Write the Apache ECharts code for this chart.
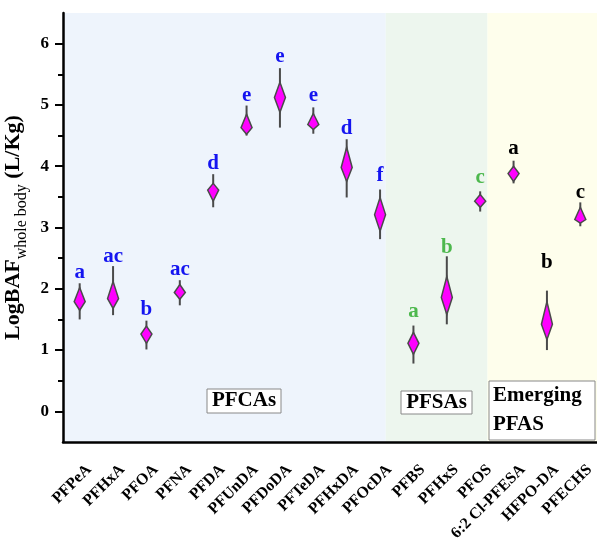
<!DOCTYPE html>
<html>
<head>
<meta charset="utf-8">
<script src="https://cdn.jsdelivr.net/npm/echarts@6/dist/echarts.min.js"></script>
<style>
  html, body { margin: 0; padding: 0; background: #fff; }
  #chart { width: 597px; height: 550px; }
</style>
</head>
<body>
<div id="chart"></div>
<script>
  // compound names along the x axis
  const categories = ['PFPeA', 'PFHxA', 'PFOA', 'PFNA', 'PFDA', 'PFUnDA', 'PFDoDA', 'PFTeDA', 'PFHxDA', 'PFOcDA',
    'PFBS', 'PFHxS', 'PFOS', '6:2 Cl-PFESA', 'HFPO-DA', 'PFECHS']
  // 0 = PFCAs, 1 = PFSAs, 2 = Emerging PFAS
  const groupOf = [0, 0, 0, 0, 0, 0, 0, 0, 0, 0, 1, 1, 1, 2, 2, 2]
  const groupNames = ['PFCAs', 'PFSAs', 'Emerging\nPFAS']

  // violin values (LogBAF)
  const whiskerLow = [1.50, 1.57, 1.01, 1.73, 3.33, 4.50, 4.63, 4.53, 3.49, 2.81, 0.78, 1.42, 3.26, 3.72, 1.00, 3.02]
  const whiskerHigh = [2.09, 2.37, 1.48, 2.14, 3.87, 4.99, 5.60, 4.96, 4.44, 3.62, 1.40, 2.53, 3.59, 4.09, 1.97, 3.41]
  const bodyLow = [1.65, 1.68, 1.11, 1.83, 3.43, 4.52, 4.88, 4.60, 3.75, 2.94, 0.93, 1.58, 3.33, 3.75, 1.17, 3.07]
  const bodyMid = [1.79, 1.84, 1.26, 1.94, 3.61, 4.63, 5.12, 4.68, 3.98, 3.21, 1.11, 1.86, 3.43, 3.88, 1.42, 3.13]
  const bodyHigh = [2.02, 2.12, 1.39, 2.07, 3.72, 4.85, 5.37, 4.86, 4.31, 3.49, 1.29, 2.20, 3.54, 4.00, 1.79, 3.33]

  // significance letters and where they sit
  const letters = ['a', 'ac', 'b', 'ac', 'd', 'e', 'e', 'e', 'd', 'f', 'a', 'b', 'c', 'a', 'b', 'c']
  const letterY = [2.27, 2.53, 1.66, 2.32, 4.05, 5.15, 5.79, 5.15, 4.62, 3.85, 1.63, 2.68, 3.82, 4.29, 2.43, 3.57]

  // shaded group bands, in category units
  const bandStart = [-0.5, 9.17, 12.22]
  const bandEnd = [9.17, 12.22, 15.5]

  // y axis ticks
  const yMajorTicks = [0, 1, 2, 3, 4, 5, 6]
  const yMinorTicks = [0.5, 1.5, 2.5, 3.5, 4.5, 5.5]

  const serif = '"Liberation Serif", "Times New Roman", serif'
  const letterColors = ['#1414f0', '#4db84d', '#000000']
  const bandColors = ['#eef4fc', '#edf6ee', '#fefeec']
  // group name boxes: x, y, width, height (px)
  const boxLayout = [[207, 389, 74, 24], [401, 391, 71, 23], [489, 381, 106, 59]]

  const chart = echarts.init(document.getElementById('chart'))

  const violinData = categories.map((c, i) => [i, whiskerLow[i], whiskerHigh[i], bodyLow[i], bodyMid[i], bodyHigh[i], letterY[i]])
  const bandData = bandStart.map((s, i) => [s, bandEnd[i], i])

  chart.setOption({
    animation: false,
    grid: { left: 63, right: 0, top: 13, bottom: 108, outerBoundsMode: 'none' },
    xAxis: [
      {
        type: 'category',
        data: categories,
        boundaryGap: true,
        axisLine: { onZero: false, lineStyle: { color: '#000', width: 2.5 } },
        axisTick: { alignWithLabel: true, length: 7, lineStyle: { color: '#000', width: 2 } },
        axisLabel: {
          interval: 0,
          rotate: 45,
          margin: 16,
          padding: [5, 0, 0, 0],
          verticalAlign: 'top',
          color: '#000',
          fontFamily: serif,
          fontWeight: 'bold',
          fontSize: 16
        },
        splitLine: { show: false }
      },
      {
        type: 'value',
        min: -0.5,
        max: 15.5,
        show: false,
        axisLine: { onZero: false }
      }
    ],
    yAxis: [
      {
        type: 'value',
        min: -0.5,
        max: 6.5,
        interval: 0.5,
        name: '{b|LogBAF}{s|whole body}{b| (L/Kg)}',
        nameLocation: 'middle',
        nameGap: 29,
        nameTextStyle: {
          rich: {
            b: { fontFamily: serif, fontWeight: 'bold', fontSize: 22, color: '#000', verticalAlign: 'bottom', lineHeight: 28 },
            s: { fontFamily: serif, fontWeight: 'normal', fontSize: 16, color: '#000', verticalAlign: 'bottom', lineHeight: 28, padding: [0, 0, -5, 0] }
          }
        },
        axisLine: { show: true, onZero: false, lineStyle: { color: '#000', width: 2.5 } },
        axisTick: { show: true, length: 8, customValues: yMajorTicks, lineStyle: { color: '#000', width: 2 } },
        axisLabel: {
          customValues: yMajorTicks,
          margin: 14,
          color: '#000',
          fontFamily: serif,
          fontWeight: 'bold',
          fontSize: 17
        },
        splitLine: { show: false }
      },
      {
        type: 'value',
        min: -0.5,
        max: 6.5,
        interval: 0.5,
        position: 'left',
        axisLine: { show: false, onZero: false },
        axisTick: { show: true, length: 5, customValues: yMinorTicks, lineStyle: { color: '#000', width: 2 } },
        axisLabel: { show: false },
        splitLine: { show: false }
      }
    ],
    series: [
      {
        // group background bands
        type: 'custom',
        xAxisIndex: 1,
        yAxisIndex: 0,
        silent: true,
        z: 0,
        data: bandData,
        renderItem: function(params, api) {
          let p0 = api.coord([api.value(0), 6.5])
          let p1 = api.coord([api.value(1), -0.5])
          return {
            type: 'rect',
            shape: { x: p0[0], y: p0[1], width: p1[0] - p0[0], height: p1[1] - p0[1] },
            style: { fill: bandColors[api.value(2)] }
          }
        }
      },
      {
        // group name boxes
        type: 'custom',
        coordinateSystem: 'none',
        silent: true,
        z: 5,
        data: groupNames.map((n, i) => [i]),
        renderItem: function(params, api) {
          let i = params.dataIndex
          let b = boxLayout[i]
          let isMulti = groupNames[i].indexOf('\n') !== -1
          return {
            type: 'group',
            x: b[0],
            y: b[1],
            children: [
              {
                type: 'rect',
                shape: { x: 0, y: 0, width: b[2], height: b[3] },
                style: { fill: '#fff', stroke: '#888', lineWidth: 1 }
              },
              {
                type: 'text',
                x: isMulti ? 4 : b[2] / 2,
                y: b[3] / 2,
                style: {
                  text: groupNames[i],
                  font: 'bold 21px ' + serif,
                  lineHeight: 29,
                  fill: '#000',
                  align: isMulti ? 'left' : 'center',
                  verticalAlign: 'middle'
                }
              }
            ]
          }
        }
      },
      {
        // diamond violins with whiskers and letters
        type: 'custom',
        xAxisIndex: 0,
        yAxisIndex: 0,
        z: 3,
        clip: false,
        data: violinData,
        encode: { x: 0, y: [1, 2] },
        renderItem: function(params, api) {
          let i = api.value(0)
          let lo = api.coord([i, api.value(1)])
          let hi = api.coord([i, api.value(2)])
          let bLo = api.coord([i, api.value(3)])
          let bMid = api.coord([i, api.value(4)])
          let bHi = api.coord([i, api.value(5)])
          let lt = api.coord([i, api.value(6)])
          let x = lo[0]
          let hw = 5.5
          return {
            type: 'group',
            children: [
              {
                type: 'line',
                shape: { x1: x, y1: lo[1], x2: x, y2: hi[1] },
                style: { stroke: '#4a4a4a', lineWidth: 2 }
              },
              {
                type: 'polygon',
                shape: { points: [[x, bHi[1]], [x + hw, bMid[1]], [x, bLo[1]], [x - hw, bMid[1]]] },
                style: { fill: '#ff00ff', stroke: '#4a4a4a', lineWidth: 1.5 }
              },
              {
                type: 'text',
                x: x,
                y: lt[1],
                style: {
                  text: letters[i],
                  fill: letterColors[groupOf[i]],
                  font: 'bold 21px ' + serif,
                  align: 'center',
                  verticalAlign: 'middle'
                }
              }
            ]
          }
        }
      }
    ]
  })
</script>
</body>
</html>
